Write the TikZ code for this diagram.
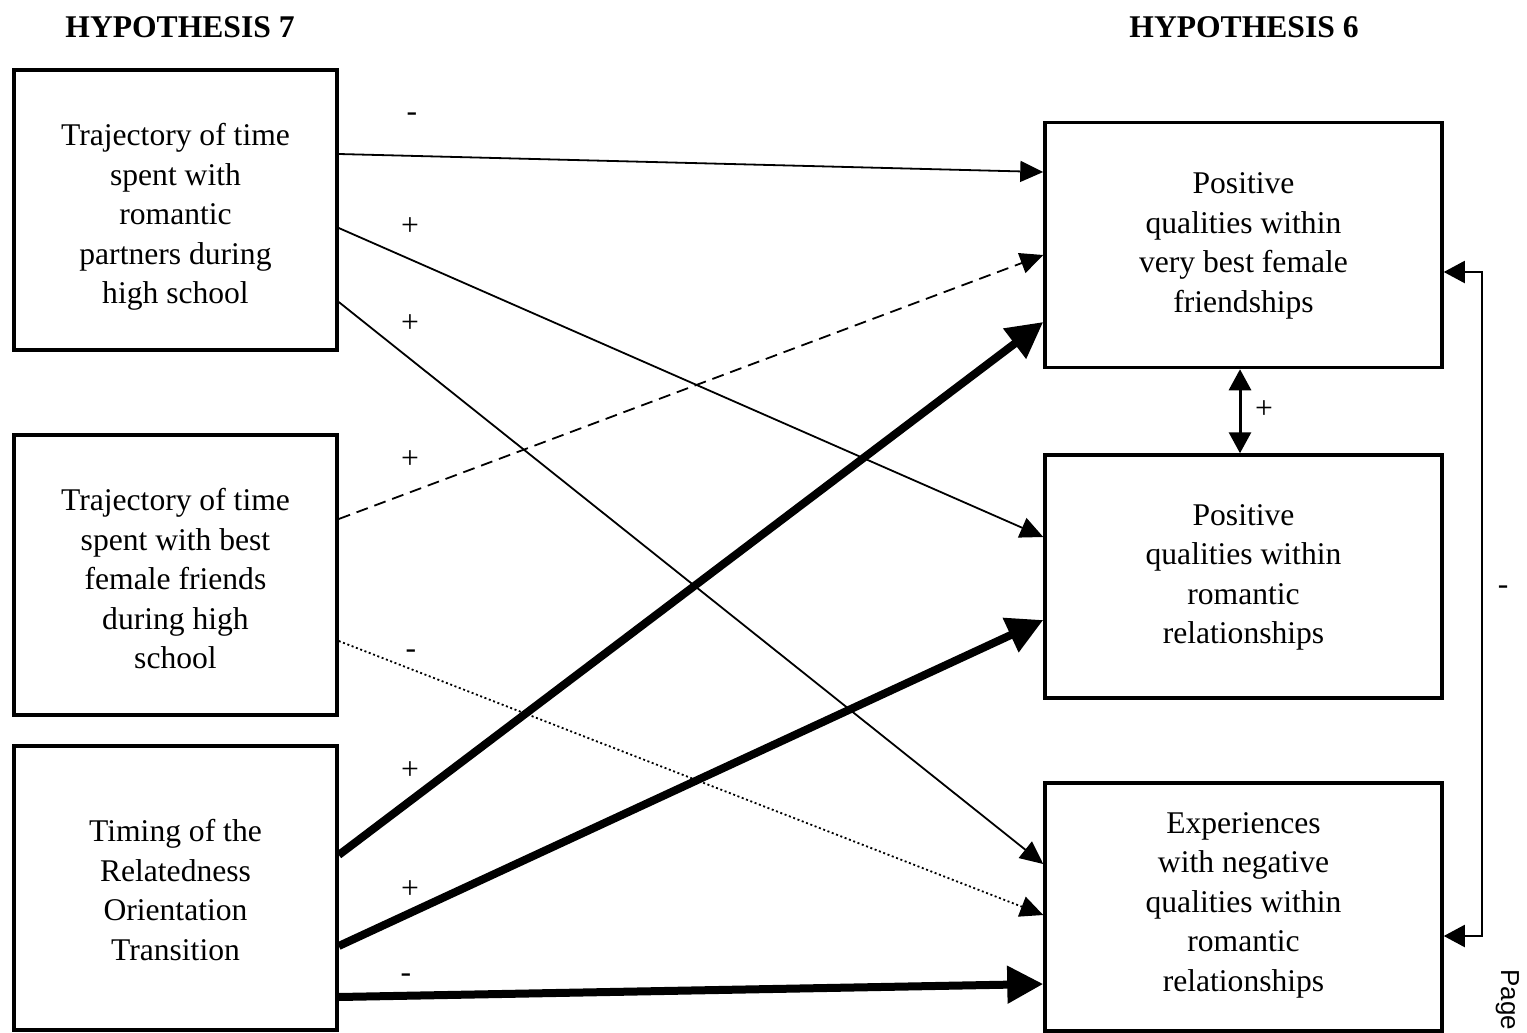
\documentclass[tikz,border=0pt]{standalone}
\usepackage{fontspec}
\setmainfont{Liberation Serif}
\newfontfamily\pagefont{Liberation Sans}
\usetikzlibrary{arrows.meta}
\begin{document}
\begin{tikzpicture}[x=1pt,y=-1pt,
  box/.style={draw, line width=3.5pt, rectangle, inner sep=0pt},
  boxtext/.style={align=center, inner sep=0pt, font=\fontsize{31.6}{39.5}\selectfont},
  thinarr/.style={line width=1.8pt, -{Triangle[length=23pt,width=21pt]}},
  thickarr/.style={line width=8pt, -{Triangle[length=36pt,width=36pt]}},
  twohead/.style={{Triangle[length=21pt,width=22pt]}-{Triangle[length=21pt,width=22pt]}},
  dashedline/.style={dash pattern=on 12pt off 7pt},
  dottedline/.style={dash pattern=on 2pt off 2.6pt},
  sign/.style={font=\fontsize{31.6}{38}\selectfont, inner sep=0pt},
  heading/.style={font=\fontsize{31.6}{38}\selectfont\bfseries, inner sep=0pt}]
\useasboundingbox (0,0) rectangle (1527,1033);
\fill[white] (0,0) rectangle (1527,1033);

% headings
\node[heading] (h7) at (180,27) {HYPOTHESIS 7};
\node[heading] (h6) at (1244,27) {HYPOTHESIS 6};

% predictor boxes
\node[box, minimum width=323pt, minimum height=280pt] (L1) at (175.5,210) {};
\node[box, minimum width=323pt, minimum height=280pt] (L2) at (175.5,575) {};
\node[box, minimum width=323pt, minimum height=284pt] (L3) at (175.5,888) {};
\node[boxtext] (L1t) at ([yshift=-7pt]L1.center)
  {Trajectory of time\\spent with\\romantic\\partners during\\high school};
\node[boxtext] (L2t) at ([yshift=-4pt]L2.center)
  {Trajectory of time\\spent with best\\female friends\\during high\\school};
\node[boxtext] (L3t) at ([yshift=-2pt]L3.center)
  {Timing of the\\Relatedness\\Orientation\\Transition};

% outcome boxes
\node[box, minimum width=397pt, minimum height=245pt] (R1) at (1243.5,245) {};
\node[box, minimum width=397pt, minimum height=243pt] (R2) at (1243.5,576.5) {};
\node[box, minimum width=397pt, minimum height=248pt] (R3) at (1243.5,907) {};
\node[boxtext] (R1t) at ([yshift=-1pt]R1.center)
  {Positive\\qualities within\\very best female\\friendships};
\node[boxtext] (R2t) at ([yshift=-1pt]R2.center)
  {Positive\\qualities within\\romantic\\relationships};
\node[boxtext] (R3t) at ([yshift=2pt]R3.center)
  {Experiences\\with negative\\qualities within\\romantic\\relationships};

% paths from the predictors
\draw[thinarr] (L1.east |- 0,154) -- (R1.west |- 0,172);
\draw[thinarr] (L1.east |- 0,228) -- (R2.west |- 0,537);
\draw[thinarr] (L1.east |- 0,302) -- (R3.west |- 0,864);
\draw[thinarr, dashedline] (L2.east |- 0,519) -- (R1.west |- 0,255);
\draw[thinarr, dottedline] (L2.east |- 0,641) -- (R3.west |- 0,915);
\draw[thickarr] (L3.east |- 0,855) -- (R1.west |- 0,322);
\draw[thickarr] (L3.east |- 0,946) -- (R2.west |- 0,620);
\draw[thickarr] (L3.east |- 0,997) -- (R3.west |- 0,984);

% signs of the paths
\node[sign] (s1) at (412,117) {-};
\node[sign] (s2) at (410,227) {+};
\node[sign] (s3) at (410,324) {+};
\node[sign] (s4) at (410,460) {+};
\node[sign] (s5) at (411,654) {-};
\node[sign] (s6) at (410,771) {+};
\node[sign] (s7) at (410,890) {+};
\node[sign] (s8) at (406,978) {-};

% associations among the outcomes
\draw[line width=3pt, twohead] (R1.south -| 1240,0) -- (R2.north -| 1240,0);
\node[sign] (s9) at (1264,410) {+};

\coordinate (fb) at (1482,0);
\draw[line width=2pt, twohead] (R3.east |- 0,936) -| (fb |- 0,272) -- (R1.east |- 0,272);
\node[sign] (s10) at (1503,590) {-};

% page number of the source page
\node[font=\pagefont\fontsize{26}{31}\selectfont, rotate=-90, anchor=base west, inner sep=0pt]
  (pg) at (1501,969) {Page};
\end{tikzpicture}
\end{document}
